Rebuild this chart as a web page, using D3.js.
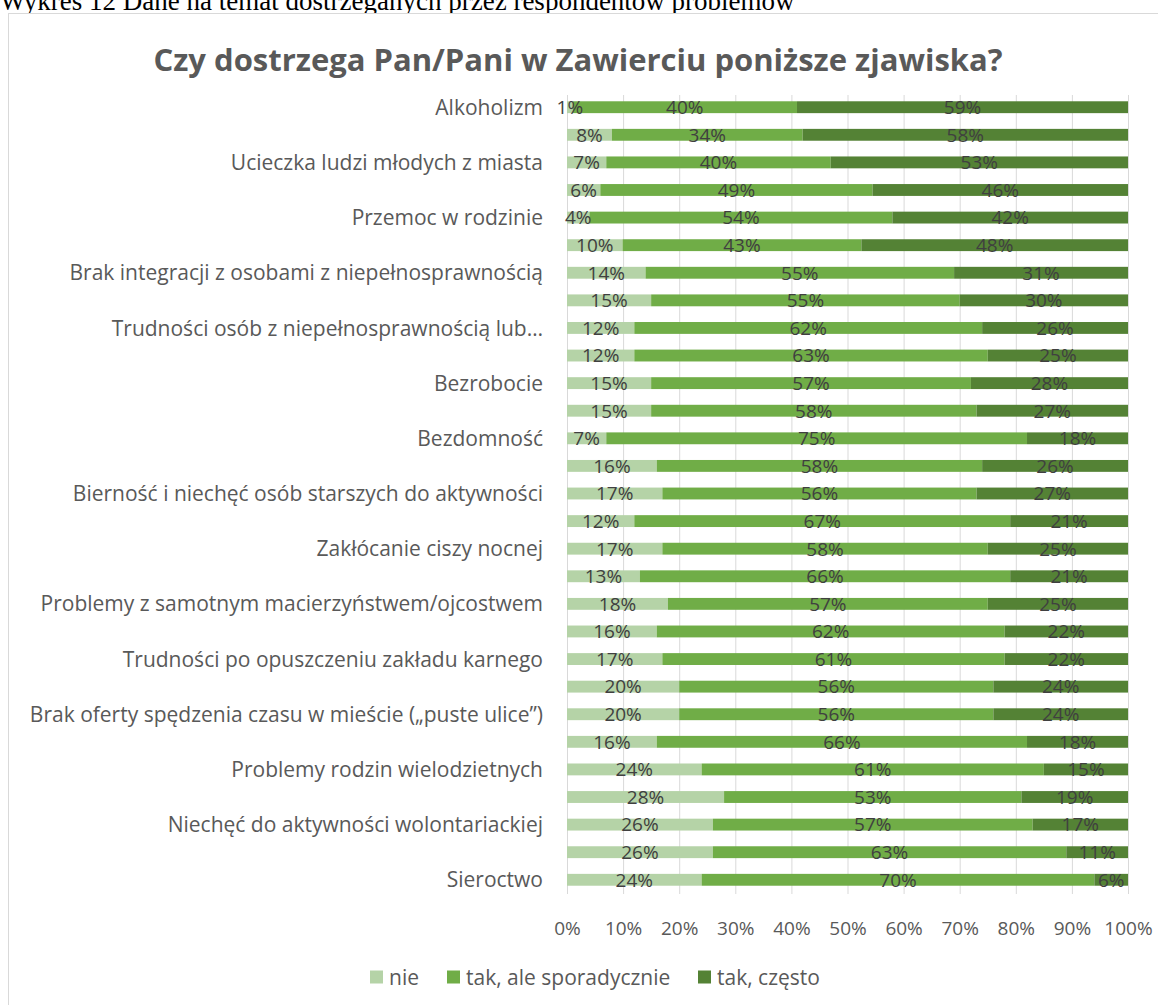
<!DOCTYPE html>
<html>
<head>
<meta charset="utf-8">
<title>Czy dostrzega Pan/Pani w Zawierciu poniższe zjawiska?</title>
<script src="https://d3js.org/d3.v7.min.js"></script>
<style>
    body {
        margin: 0;
        background: #fff;
    }
    text {
        font-family: "Open Sans", Lato, sans-serif;
    }
</style>
</head>
<body>
<script>

// Data
var categories = [
    "Alkoholizm", "",
    "Ucieczka ludzi młodych z miasta", "",
    "Przemoc w rodzinie", "",
    "Brak integracji z osobami z niepełnosprawnością", "",
    "Trudności osób z niepełnosprawnością lub…", "",
    "Bezrobocie", "",
    "Bezdomność", "",
    "Bierność i niechęć osób starszych do aktywności", "",
    "Zakłócanie ciszy nocnej", "",
    "Problemy z samotnym macierzyństwem/ojcostwem", "",
    "Trudności po opuszczeniu zakładu karnego", "",
    "Brak oferty spędzenia czasu w mieście („puste ulice”)", "",
    "Problemy rodzin wielodzietnych", "",
    "Niechęć do aktywności wolontariackiej", "",
    "Sieroctwo"
];
var nie         = [1, 8, 7, 6, 4, 10, 14, 15, 12, 12, 15, 15, 7, 16, 17, 12, 17, 13, 18, 16, 17, 20, 20, 16, 24, 28, 26, 26, 24];
var sporadyczne = [40, 34, 40, 49, 54, 43, 55, 55, 62, 63, 57, 58, 75, 58, 56, 67, 58, 66, 57, 62, 61, 56, 56, 66, 61, 53, 57, 63, 70];
var czesto      = [59, 58, 53, 46, 42, 48, 31, 30, 26, 25, 28, 27, 18, 26, 27, 21, 25, 21, 25, 22, 22, 24, 24, 18, 15, 19, 17, 11, 6];
var seriesNames = ["nie", "tak, ale sporadycznie", "tak, często"];
var colors = ["#b5d3a7", "#70ad47", "#548235"];
var xTicks = [0, 10, 20, 30, 40, 50, 60, 70, 80, 90, 100];

var width = 1158,
    height = 1005;

var svg = d3.select("body")
    .append("svg")
    .attr("width", width)
    .attr("height", height);

// Document caption above the chart (its top is cut off, as in the page scan)
svg.append("text")
    .attr("x", 0)
    .attr("y", 10)
    .style("font-family", "'Liberation Serif', 'Times New Roman', serif")
    .attr("font-size", "27px")
    .attr("fill", "#000")
    .text("Wykres 12 Dane na temat dostrzeganych przez respondentów problemów");

// Chart frame
svg.append("rect")
    .attr("x", 8.5)
    .attr("y", 13.5)
    .attr("width", 1160)
    .attr("height", 1000)
    .attr("fill", "#fff")
    .attr("stroke", "#d9d9d9");

svg.append("text")
    .attr("x", 578)
    .attr("y", 60)
    .attr("dy", "0.36em")
    .attr("text-anchor", "middle")
    .attr("font-size", "31px")
    .attr("font-weight", "bold")
    .attr("fill", "#595959")
    .text("Czy dostrzega Pan/Pani w Zawierciu poniższe zjawiska?");

var margin = {left: 567, right: 30, top: 93, bottom: 111};

var x = d3.scaleLinear()
    .domain([0, 1])
    .range([margin.left, width - margin.right]);

var y = d3.scaleBand()
    .domain(d3.range(categories.length))
    .range([margin.top, height - margin.bottom])
    .paddingInner(0.57)
    .paddingOuter(0.3);

// Gridlines
svg.append("g")
    .selectAll("line")
    .data(xTicks)
    .join("line")
    .attr("x1", function(d) { return x(d / 100) + 0.5; })
    .attr("x2", function(d) { return x(d / 100) + 0.5; })
    .attr("y1", margin.top + 2)
    .attr("y2", height - margin.bottom)
    .attr("stroke", "#d9d9d9")
    .attr("stroke-width", 1);

// 100% stack
var rows = categories.map(function(c, i) {
    return {i: i, nie: nie[i], spor: sporadyczne[i], czesto: czesto[i]};
});
var keys = ["nie", "spor", "czesto"];
var stacked = d3.stack().keys(keys).offset(d3.stackOffsetExpand)(rows);

svg.append("g")
    .selectAll("g")
    .data(stacked)
    .join("g")
    .attr("fill", function(d, k) { return colors[k]; })
    .selectAll("rect")
    .data(function(d) { return d; })
    .join("rect")
    .attr("x", function(d) { return x(d[0]); })
    .attr("width", function(d) { return x(d[1]) - x(d[0]); })
    .attr("y", function(d) { return y(d.data.i); })
    .attr("height", y.bandwidth());

// Data labels, drawn after all bars so none is hidden
var labels = [];
stacked.forEach(function(layer) {
    layer.forEach(function(p) { labels.push({p: p, key: layer.key}); });
});

svg.append("g")
    .selectAll("text")
    .data(labels)
    .join("text")
    .attr("x", function(d) { return (x(d.p[0]) + x(d.p[1])) / 2; })
    .attr("y", function(d) { return y(d.p.data.i) + y.bandwidth() / 2; })
    .attr("dy", "0.36em")
    .attr("text-anchor", "middle")
    .attr("font-size", "19px")
    .attr("fill", "#404040")
    .text(function(d) { return d.p.data[d.key] + "%"; });

// Category labels
svg.append("g")
    .selectAll("text")
    .data(categories)
    .join("text")
    .attr("x", margin.left - 24)
    .attr("y", function(d, i) { return y(i) + y.bandwidth() / 2; })
    .attr("dy", "0.36em")
    .attr("text-anchor", "end")
    .attr("font-size", "21px")
    .attr("fill", "#595959")
    .text(function(d) { return d; });

// X axis labels
var xAxis = d3.axisBottom(x)
    .tickValues(xTicks.map(function(t) { return t / 100; }))
    .tickSize(0)
    .tickPadding(0)
    .tickFormat(function(d) { return Math.round(d * 100) + "%"; });

var ax = svg.append("g")
    .attr("transform", "translate(0,928)")
    .call(xAxis);
ax.select(".domain").remove();
ax.selectAll("text")
    .attr("dy", "0.36em")
    .attr("font-size", "19px")
    .attr("fill", "#595959")
    .attr("font-family", null);

// Legend
var legendX = [370, 447, 698];
var legend = svg.append("g")
    .selectAll("g")
    .data(seriesNames)
    .join("g")
    .attr("transform", function(d, i) { return "translate(" + legendX[i] + ",977)"; });

legend.append("rect")
    .attr("width", 13)
    .attr("height", 13)
    .attr("y", -6.5)
    .attr("fill", function(d, i) { return colors[i]; });

legend.append("text")
    .attr("x", 19)
    .attr("y", 0)
    .attr("dy", "0.36em")
    .attr("font-size", "21px")
    .attr("fill", "#595959")
    .text(function(d) { return d; });

</script>
</body>
</html>
